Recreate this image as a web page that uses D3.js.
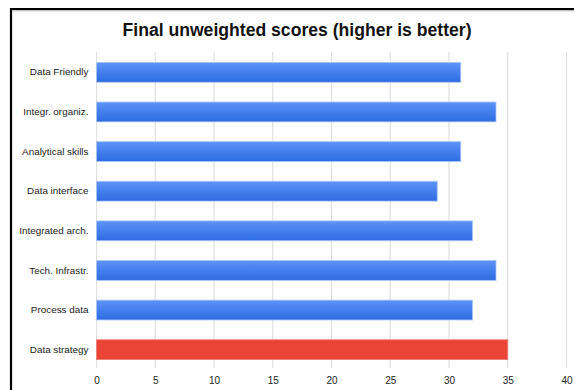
<!DOCTYPE html>
<html><head><meta charset="utf-8">
<script src="https://cdn.jsdelivr.net/npm/d3@7"></script>
<style>body{margin:0;background:#fff}svg{display:block;font-family:"Liberation Sans",Arial,sans-serif}</style>
</head><body><svg id="c" width="574" height="390"></svg>
<script>
const categories = ["Data Friendly","Integr. organiz.","Analytical skills","Data interface","Integrated arch.","Tech. Infrastr.","Process data","Data strategy"];
const values = [31,34,31,29,32,34,32,35];
const highlight = ["Data strategy"];
const tickValues = [0,5,10,15,20,25,30,35,40];
const title = "Final unweighted scores (higher is better)";

const svg = d3.select("#c");
const defs = svg.append("defs");
const g1 = defs.append("linearGradient").attr("id","blueG").attr("x1",0).attr("y1",0).attr("x2",0).attr("y2",1);
g1.append("stop").attr("offset","0%").attr("stop-color","#5e93fa");
g1.append("stop").attr("offset","100%").attr("stop-color","#2c6be0");

// frame
svg.append("path").attr("d","M11,390 V9 H574").attr("fill","none").attr("stroke","#000").attr("stroke-width",2.2);
svg.append("line").attr("x1",12).attr("x2",574).attr("y1",10.8).attr("y2",10.8).attr("stroke","#999").attr("stroke-width",0.8);

svg.append("text").attr("x",297).attr("y",36).attr("text-anchor","middle")
  .attr("font-size",17.6).attr("font-weight","bold").attr("fill","#111").text(title);

const x = d3.scaleLinear().domain([0,40]).range([96.5,566.5]);
const y = d3.scaleBand().domain(categories).range([52.5,369.5]).paddingInner(0.5).paddingOuter(0.25);

// grid
svg.append("g").selectAll("line").data(tickValues).join("line")
  .attr("x1",d=>x(d)).attr("x2",d=>x(d)).attr("y1",52).attr("y2",368)
  .attr("stroke","#e0e0e0").attr("stroke-width",1.2);

// bars
svg.append("g").selectAll("rect").data(categories).join("rect")
  .attr("x",x(0)).attr("y",d=>y(d)).attr("height",y.bandwidth())
  .attr("width",(d,i)=>x(values[i])-x(0))
  .attr("fill",d=>highlight.includes(d)?"#e94436":"url(#blueG)")
  .attr("stroke",d=>highlight.includes(d)?"#f07a70":"#a9c4f5").attr("stroke-width",0.8);

// y labels
const ya = svg.append("g").attr("transform",`translate(${x(0)},0)`)
  .call(d3.axisLeft(y).tickSize(0).tickPadding(8));
ya.select(".domain").remove();
ya.selectAll("text").attr("font-size",9.9).attr("fill","#222").attr("font-family","Liberation Sans, Arial, sans-serif");

// x labels
const xa = svg.append("g").attr("transform","translate(0,368)")
  .call(d3.axisBottom(x).tickValues(tickValues).tickSize(0).tickPadding(9));
xa.select(".domain").remove();
xa.selectAll("text").attr("font-size",10).attr("fill","#222").attr("font-family","Liberation Sans, Arial, sans-serif");
</script></body></html>
